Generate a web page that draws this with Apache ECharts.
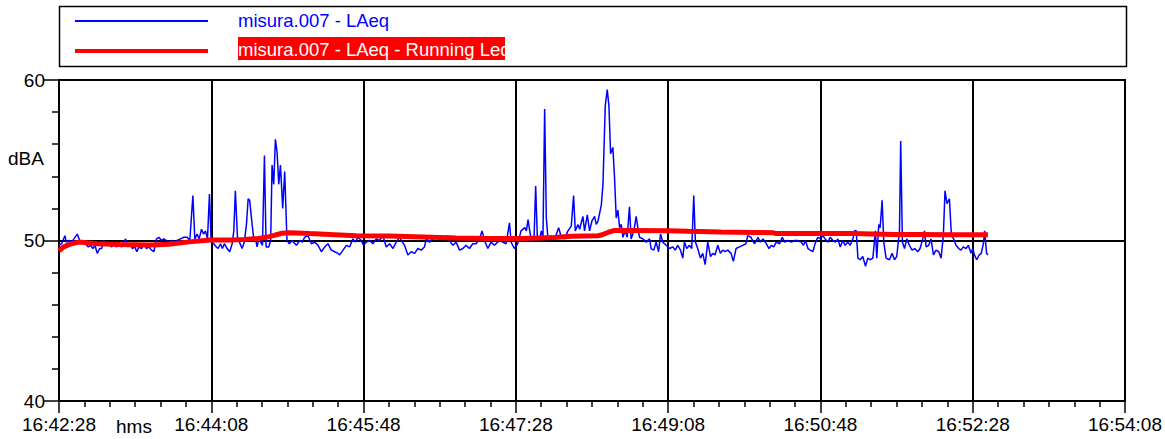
<!DOCTYPE html>
<html>
<head>
<meta charset="utf-8">
<script src="https://cdn.jsdelivr.net/npm/echarts@6/dist/echarts.min.js"></script>
<style>
html,body{margin:0;padding:0;background:#fff;}
#chart{width:1165px;height:439px;}
</style>
</head>
<body>
<div id="chart"></div>
<script>
// ---- data ----
const seriesNames = ['misura.007 - LAeq', 'misura.007 - LAeq - Running Leq'];
const xTickLabels = ['16:42:28','16:44:08','16:45:48','16:47:28','16:49:08','16:50:48','16:52:28','16:54:08'];
const yTickLabels = ['40','50','60'];
const yUnit = 'dBA';
const xUnit = 'hms';

// LAeq: seconds from 16:42:28, level dB(A)
const laeqSec = [
  0,1.7,3.9,4.8,6.6,8.3,9.8,12.0,13.6,15.7,
  17.5,19.2,20.8,22.3,23.6,25.1,26.7,28.0,29.5,31.0,
  32.8,34.5,36.1,37.6,39.3,41.1,43.7,45.2,46.6,48.1,
  49.8,51.1,52.5,54.2,56.0,57.3,59.0,60.8,62.3,64.0,
  65.6,67.3,68.9,70.4,72.1,73.9,75.6,77.6,79.8,82.0,
  84.2,85.9,87.9,89.2,90.7,92.0,93.6,94.9,96.2,97.5,
  98.8,99.9,101.6,103.2,104.5,106.0,107.3,108.6,110.4,112.1,
  113.7,114.8,115.8,117.2,118.5,120.2,121.7,123.1,124.2,125.2,
  126.8,127.9,129.0,130.1,131.1,132.5,133.6,134.9,136.0,137.7,
  139.0,139.9,141.0,142.1,143.2,144.3,145.4,146.9,148.2,149.7,
  151.3,153.0,155.9,158.1,159.8,161.3,163.5,165.7,167.9,170.1,
  172.3,174.5,176.6,178.8,181.0,183.2,184.3,186.5,188.7,190.8,
  193.0,194.6,196.3,198.5,200.0,201.8,204.0,206.1,208.3,210.5,
  212.7,214.9,217.1,219.3,221.4,223.6,226.9,229.1,231.3,233.5,
  235.7,237.8,240.0,241.1,243.3,245.5,248.8,251.0,253.1,255.3,
  256.4,258.6,260.8,263.0,265.2,267.3,269.5,271.7,273.9,276.1,
  277.8,279.4,281.6,283.7,285.9,288.1,289.2,291.4,293.6,295.8,
  296.9,299.0,301.2,303.4,305.8,306.9,308.0,309.1,310.2,311.9,
  313.0,314.1,315.6,316.7,317.8,318.9,320.0,321.1,323.3,325.5,
  328.1,329.8,332.0,334.2,336.4,337.9,339.0,340.8,341.9,344.0,
  345.1,346.9,348.4,349.9,351.7,352.8,353.9,356.1,357.2,358.7,
  360.0,361.1,362.2,363.7,364.8,365.9,367.0,368.1,369.2,370.3,
  371.8,373.1,374.6,375.7,377.5,379.0,380.1,381.2,383.4,385.6,
  387.8,388.8,390.6,392.1,393.7,395.0,396.5,398.7,400.9,403.1,
  404.6,406.3,408.1,409.6,410.7,412.2,414.0,415.5,416.8,417.9,
  419.4,421.2,422.7,424.3,426.0,427.8,429.3,430.8,432.6,434.3,
  435.8,437.4,439.1,441.3,442.8,444.6,446.8,449.0,451.1,452.2,
  454.4,456.6,457.4,459.0,460.5,462.3,464.4,466.2,467.7,469.3,
  471.0,473.2,474.9,476.5,478.7,480.8,483.0,485.2,487.4,488.9,
  490.2,491.8,493.3,495.0,496.8,498.3,500.1,501.6,503.1,504.9,
  506.4,508.2,509.9,511.4,513.0,514.7,516.2,518.0,519.5,521.3,
  522.4,523.5,524.6,526.1,527.8,529.6,531.1,532.6,534.4,536.1,
  537.0,538.3,539.2,540.5,541.6,543.1,545.3,547.1,548.6,550.1,
  551.9,552.7,553.8,555.2,556.7,558.4,560.2,561.9,563.9,565.4,
  567.2,568.3,569.4,571.1,572.6,574.2,575.9,577.7,579.2,580.7,
  581.8,583.1,584.7,586.0,587.5,589.0,590.8,592.3,593.8,595.6,
  597.1,598.9,600.0,601.1,602.6,604.3,605.6,607.0,607.8,609.1,
  610.0
];
const laeqDb = [
  49.7,49.8,50.3,49.9,50.0,49.9,50.1,50.4,50.0,49.9,
  49.8,49.6,49.7,49.5,49.7,49.2,49.5,49.5,50.0,49.7,
  49.8,49.6,49.8,49.6,49.7,49.6,50.1,49.6,49.8,49.5,
  49.6,49.3,49.6,49.5,49.8,49.5,49.6,49.4,49.3,50.1,
  50.2,50.0,50.1,50.0,49.9,50.0,49.9,50.0,50.1,50.2,
  50.2,50.0,52.8,50.1,50.4,50.1,50.7,50.4,50.6,50.1,
  52.9,49.9,49.8,49.6,49.5,49.8,49.5,49.8,49.5,49.3,
  49.8,50.6,53.1,50.2,49.9,49.5,49.9,51.0,52.6,52.5,
  51.0,50.1,50.1,49.6,50.1,49.9,49.7,55.3,49.6,49.6,
  50.0,54.7,53.5,56.3,55.5,53.5,54.7,52.0,54.3,50.0,
  49.8,50.0,49.7,50.0,49.9,50.2,50.3,49.8,49.9,49.7,
  49.3,49.6,49.8,49.4,49.3,49.2,49.1,49.4,49.7,49.6,
  50.1,49.9,50.2,50.0,49.7,49.9,50.0,49.8,50.1,50.0,
  50.3,49.6,49.8,49.5,49.9,50.2,49.7,49.1,49.3,49.2,
  49.5,49.4,49.6,50.1,49.9,50.1,50.3,50.2,50.1,50.3,
  50.0,49.7,49.9,49.4,49.5,49.7,49.5,49.8,49.8,50.1,
  50.6,50.0,49.5,49.9,49.7,49.9,50.1,49.9,49.8,51.1,
  49.9,49.5,49.8,50.6,50.8,50.6,51.3,50.6,50.0,50.0,
  53.4,50.2,50.0,50.6,50.2,58.2,51.4,50.1,50.3,50.1,
  50.8,50.2,50.1,50.6,50.9,52.8,50.6,51.0,50.7,51.5,
  50.6,51.6,50.6,51.2,51.5,51.0,51.2,52.2,53.5,58.4,
  59.4,58.4,55.4,55.8,53.9,51.4,51.9,50.8,51.0,50.2,
  50.6,50.2,52.1,50.1,50.6,51.5,50.8,50.2,50.1,49.9,
  50.1,49.5,49.4,49.9,49.3,50.4,49.9,49.7,49.5,49.6,
  49.4,49.7,49.4,48.9,49.9,49.5,49.7,49.5,52.8,49.9,
  49.5,48.9,49.2,48.5,49.9,49.0,49.2,49.1,49.7,49.2,
  49.4,49.3,49.4,49.2,48.7,49.5,49.6,49.7,49.8,50.3,
  50.2,49.8,49.9,50.2,49.9,50.1,49.8,49.5,49.7,49.6,
  49.9,49.8,50.2,49.9,50.0,49.9,50.0,50.0,49.9,49.7,
  50.0,49.5,49.4,49.3,49.9,50.2,50.1,50.3,50.1,49.9,
  50.2,50.0,49.9,50.1,49.6,50.0,49.7,49.9,49.7,50.1,
  50.6,50.6,48.9,48.8,49.0,48.4,48.9,48.8,48.9,50.6,
  48.9,51.0,50.8,52.5,49.9,48.9,48.8,49.2,48.8,49.0,
  50.6,56.2,49.9,49.5,50.1,49.7,49.4,49.5,49.3,49.5,
  50.1,50.6,49.6,49.7,50.1,49.1,49.4,49.3,48.9,50.3,
  53.1,52.3,52.6,50.3,50.1,49.7,49.5,49.4,49.6,49.5,
  49.7,49.2,49.5,49.1,48.8,49.1,49.2,49.8,50.6,49.2,
  49.1
];

// Running Leq: seconds from 16:42:28, level dB(A)
const runSec = [0,3,8,13,25,40,60,72,87,99.5,113.7,122,131,138,142,146.5,151.5,164.6,177.7,195.2,217.1,239,260.8,282.7,304.6,325.5,336.4,353.9,356,360.4,364.8,373.5,399.8,412.9,434.7,456.6,468.8,471,499.4,521.3,547.5,565,586.8,610];
const runDb  = [49.35,49.6,49.8,49.9,49.8,49.75,49.72,49.76,49.93,50.03,50.03,50.07,50.13,50.24,50.34,50.45,50.49,50.43,50.38,50.3,50.28,50.22,50.16,50.13,50.13,50.18,50.26,50.3,50.34,50.5,50.63,50.63,50.61,50.57,50.53,50.5,50.49,50.43,50.43,50.43,50.38,50.38,50.36,50.36];

// ---- chart ----
const laeqData = laeqSec.map((t, i) => [t, laeqDb[i]]);
const runData = runSec.map((t, i) => [t, runDb[i]]);

const AXIS_FONT = '"Liberation Sans", Arial, sans-serif';
const LEG_FONT = '"Liberation Sans", Arial, sans-serif';

const chart = echarts.init(document.getElementById('chart'), null, {renderer: 'svg'});
chart.setOption({
  animation: false,
  backgroundColor: '#fff',
  grid: {left: 59, top: 80, width: 1067, height: 321, show: true, borderColor: '#000', borderWidth: 2, backgroundColor: 'transparent'},
  xAxis: {
    type: 'value', min: 0, max: 700, interval: 100,
    axisLine: {show: true, onZero: false, lineStyle: {color: '#000', width: 2}},
    axisTick: {show: true, length: 12, lineStyle: {color: '#000', width: 1.5}},
    minorTick: {show: true, splitNumber: 6, length: 6, lineStyle: {color: '#000', width: 1.5}},
    splitLine: {show: true, lineStyle: {color: '#000', width: 2}},
    axisLabel: {
      formatter: v => xTickLabels[Math.round(v / 100)],
      margin: 14, color: '#000', fontSize: 19, fontFamily: AXIS_FONT,
      showMinLabel: true, showMaxLabel: true
    }
  },
  yAxis: {
    type: 'value', min: 40, max: 60, interval: 10,
    axisLine: {show: true, lineStyle: {color: '#000', width: 2}},
    axisTick: {show: true, length: 15, lineStyle: {color: '#000', width: 1.5}},
    minorTick: {show: true, splitNumber: 5, length: 7, lineStyle: {color: '#000', width: 1.5}},
    splitLine: {show: true, lineStyle: {color: '#000', width: 2}},
    axisLabel: {
      formatter: v => yTickLabels[Math.round((v - 40) / 10)],
      margin: 14, color: '#000', fontSize: 19, fontFamily: AXIS_FONT
    }
  },
  series: [
    {name: seriesNames[0], type: 'line', data: laeqData, showSymbol: false, symbol: 'none',
     lineStyle: {color: '#0000ff', width: 1.5}, z: 2},
    {name: seriesNames[1], type: 'line', data: runData, showSymbol: false, symbol: 'none',
     lineStyle: {color: '#ff0000', width: 5, cap: 'butt'}, z: 3}
  ],
  graphic: [
    {type: 'rect', shape: {x: 59.5, y: 6.5, width: 1067, height: 60}, style: {fill: '#fff', stroke: '#000', lineWidth: 1.5}},
    {type: 'line', shape: {x1: 75, y1: 21, x2: 208, y2: 21}, style: {stroke: '#0000ff', lineWidth: 2}},
    {type: 'line', shape: {x1: 75, y1: 51, x2: 208, y2: 51}, style: {stroke: '#ff0000', lineWidth: 4}},
    {type: 'text', style: {x: 238, y: 20, text: seriesNames[0], fill: '#0000ff', font: '18.5px ' + LEG_FONT, verticalAlign: 'middle', align: 'left'}},
    {type: 'rect', shape: {x: 238, y: 37, width: 267, height: 23}, style: {fill: '#ff0000'}},
    {type: 'text', style: {x: 238, y: 49, text: seriesNames[1], fill: '#fff', font: '18.5px ' + LEG_FONT, verticalAlign: 'middle', align: 'left'}},
    {type: 'text', style: {x: 8, y: 158, text: yUnit, fill: '#000', font: '19px ' + AXIS_FONT, verticalAlign: 'middle', align: 'left'}},
    {type: 'text', style: {x: 134, y: 426, text: xUnit, fill: '#000', font: '19px ' + AXIS_FONT, verticalAlign: 'middle', align: 'center'}}
  ]
});
</script>
</body>
</html>
